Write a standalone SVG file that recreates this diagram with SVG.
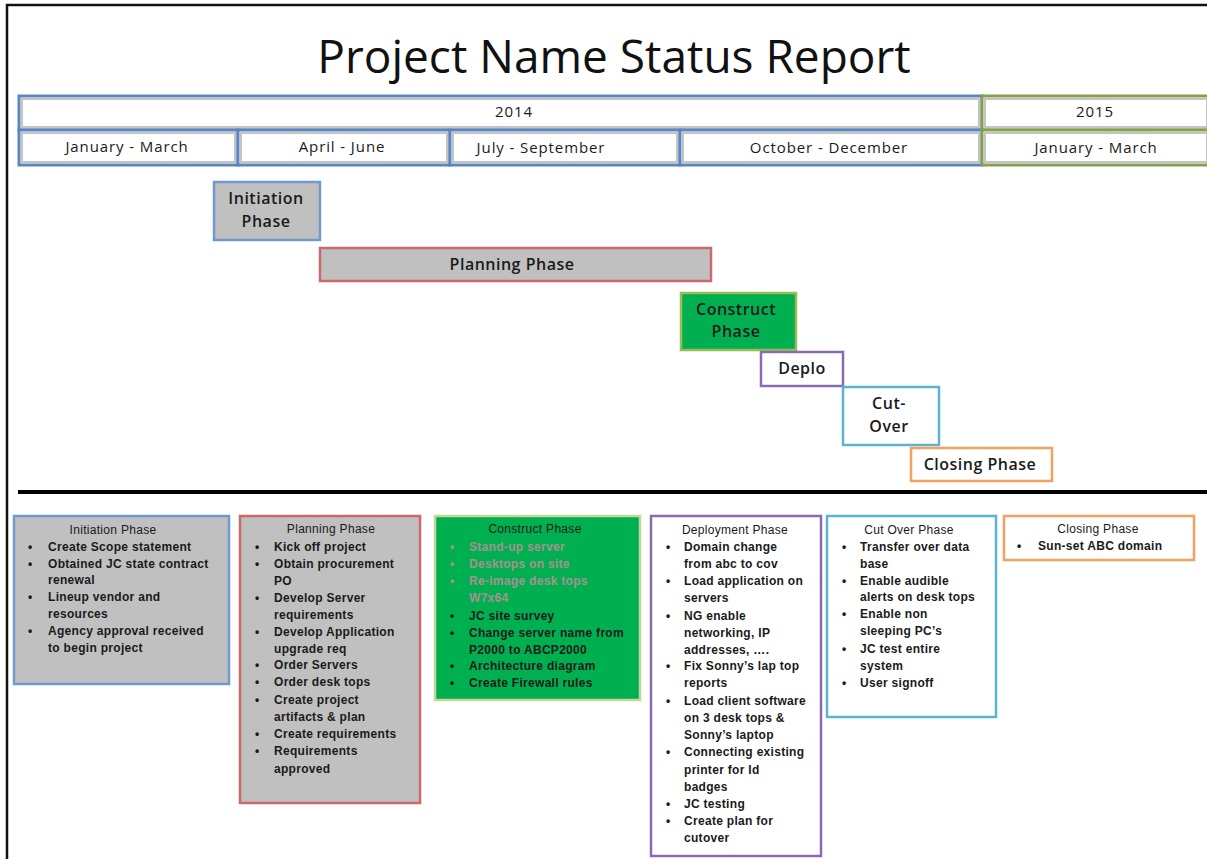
<svg xmlns="http://www.w3.org/2000/svg" width="1207" height="859" viewBox="0 0 1207 859">
<style>
.hdr{fill:#ffffff;stroke-width:3}
.blue{stroke:#5b86c0}
.green{stroke:#86a04e}
.inner{fill:none;stroke:#c4c4c4;stroke-width:2}
.ht{font-family:"Open Sans","Liberation Sans",sans-serif;font-size:15px;letter-spacing:0.9px;fill:#1a1a1a;text-anchor:middle}
.pt{font-family:"Open Sans","Liberation Sans",sans-serif;font-size:16px;letter-spacing:0.5px;font-weight:600;fill:#1a1a1a;text-anchor:middle}
.bt{font-family:"Liberation Sans",Arial,sans-serif;font-size:12px;letter-spacing:0.3px;font-weight:bold;fill:#1a1a1a}
.bc{font-family:"Liberation Sans",Arial,sans-serif;font-size:12px;letter-spacing:0.3px;fill:#1a1a1a;text-anchor:middle}
.faded{fill:#a89090}
.box{stroke-width:2.5}
</style>
<rect x="0" y="0" width="1207" height="859" fill="#ffffff"/>
<path d="M7 859 V5 H1207" fill="none" stroke="#111" stroke-width="2.5"/>
<text x="614" y="73" font-family="Open Sans, Liberation Sans, sans-serif" font-size="46" fill="#111" text-anchor="middle">Project Name Status Report</text>

<g id="header">
<rect class="hdr blue" x="19" y="96" width="963" height="34"/><rect class="inner" x="22" y="99" width="957" height="28"/>
<text class="ht" x="514" y="117">2014</text>
<rect class="hdr green" x="982" y="96" width="228" height="34"/><rect class="inner" x="985" y="99" width="222" height="28"/>
<text class="ht" x="1095" y="117">2015</text>
<rect class="hdr blue" x="19" y="130" width="219" height="35"/><rect class="inner" x="22" y="133" width="213" height="29"/>
<text class="ht" x="127" y="152">January - March</text>
<rect class="hdr blue" x="238" y="130" width="212" height="35"/><rect class="inner" x="241" y="133" width="206" height="29"/>
<text class="ht" x="342" y="152">April - June</text>
<rect class="hdr blue" x="450" y="130" width="230" height="35"/><rect class="inner" x="453" y="133" width="224" height="29"/>
<text class="ht" x="541" y="153">July - September</text>
<rect class="hdr blue" x="680" y="130" width="302" height="35"/><rect class="inner" x="683" y="133" width="296" height="29"/>
<text class="ht" x="829" y="153">October - December</text>
<rect class="hdr green" x="982" y="130" width="228" height="35"/><rect class="inner" x="985" y="133" width="222" height="29"/>
<text class="ht" x="1096" y="153">January - March</text>
</g>

<g id="gantt-initiation">
<rect class="box" x="214" y="182" width="106" height="58" fill="#c0c0c0" stroke="#7099cf"/>
<text class="pt" x="266" y="204">Initiation</text>
<text class="pt" x="266" y="227">Phase</text>
</g>
<g id="gantt-planning">
<rect class="box" x="320" y="248" width="391" height="33" fill="#c0c0c0" stroke="#cc6a6a"/>
<text class="pt" x="512" y="270">Planning Phase</text>
</g>
<g id="gantt-construct">
<rect class="box" x="681" y="293" width="115" height="57" fill="#00b050" stroke="#9bbb59"/>
<text class="pt" x="736" y="315">Construct</text>
<text class="pt" x="736" y="337">Phase</text>
</g>
<g id="gantt-deploy">
<rect class="box" x="761" y="352" width="82" height="34" fill="#ffffff" stroke="#8a6ab0"/>
<text class="pt" x="802" y="374">Deplo</text>
</g>
<g id="gantt-cutover">
<rect class="box" x="843" y="387" width="96" height="58" fill="#ffffff" stroke="#5ab4cf"/>
<text class="pt" x="889" y="409">Cut-</text>
<text class="pt" x="889" y="432">Over</text>
</g>
<g id="gantt-closing">
<rect class="box" x="911" y="448" width="141" height="33" fill="#ffffff" stroke="#f4a060"/>
<text class="pt" x="980" y="470">Closing Phase</text>
</g>

<g id="connectors">
<line x1="18" y1="492" x2="1207" y2="492" stroke="#000" stroke-width="4"/>
</g>

<g id="detail-initiation">
<rect class="box" x="14" y="516" width="215" height="168" fill="#c0c0c0" stroke="#7099cf"/>
<text class="bc" x="113" y="534">Initiation Phase</text>
<g class="bt">
<text x="28" y="551">•</text><text x="48" y="551">Create Scope statement</text>
<text x="28" y="568">•</text><text x="48" y="568">Obtained JC state contract</text>
<text x="48" y="584">renewal</text>
<text x="28" y="601">•</text><text x="48" y="601">Lineup vendor and</text>
<text x="48" y="618">resources</text>
<text x="28" y="635">•</text><text x="48" y="635">Agency approval received</text>
<text x="48" y="652">to begin project</text>
</g>
</g>

<g id="detail-planning">
<rect class="box" x="240" y="516" width="180" height="287" fill="#c0c0c0" stroke="#cc6a6a"/>
<text class="bc" x="331" y="533">Planning Phase</text>
<g class="bt">
<text x="255" y="551">•</text><text x="274" y="551">Kick off project</text>
<text x="255" y="568">•</text><text x="274" y="568">Obtain procurement</text>
<text x="274" y="585">PO</text>
<text x="255" y="602">•</text><text x="274" y="602">Develop Server</text>
<text x="274" y="619">requirements</text>
<text x="255" y="636">•</text><text x="274" y="636">Develop Application</text>
<text x="274" y="653">upgrade req</text>
<text x="255" y="669">•</text><text x="274" y="669">Order Servers</text>
<text x="255" y="686">•</text><text x="274" y="686">Order desk tops</text>
<text x="255" y="704">•</text><text x="274" y="704">Create project</text>
<text x="274" y="721">artifacts &amp; plan</text>
<text x="255" y="738">•</text><text x="274" y="738">Create requirements</text>
<text x="255" y="755">•</text><text x="274" y="755">Requirements</text>
<text x="274" y="773">approved</text>
</g>
</g>

<g id="detail-construct">
<rect class="box" x="435" y="516" width="205" height="184" fill="#00b050" stroke="#c4d79b"/>
<text class="bc" x="535" y="533">Construct Phase</text>
<g class="bt">
<text class="faded" x="450" y="551">•</text><text class="faded" x="469" y="551">Stand-up server</text>
<text class="faded" x="450" y="568">•</text><text class="faded" x="469" y="568">Desktops on site</text>
<text class="faded" x="450" y="585">•</text><text class="faded" x="469" y="585">Re-image desk tops</text>
<text class="faded" x="469" y="602">W7x64</text>
<text x="450" y="620">•</text><text x="469" y="620">JC site  survey</text>
<text x="450" y="637">•</text><text x="469" y="637">Change server name from</text>
<text x="469" y="654">P2000 to  ABCP2000</text>
<text x="450" y="670">•</text><text x="469" y="670">Architecture  diagram</text>
<text x="450" y="687">•</text><text x="469" y="687">Create Firewall  rules</text>
</g>
</g>

<g id="detail-deployment">
<rect class="box" x="651" y="516" width="170" height="340" fill="#ffffff" stroke="#8a6ab0"/>
<text class="bc" x="735" y="534">Deployment Phase</text>
<g class="bt">
<text x="666" y="551">•</text><text x="684" y="551">Domain change</text>
<text x="684" y="568">from abc to cov</text>
<text x="666" y="585">•</text><text x="684" y="585">Load application on</text>
<text x="684" y="602">servers</text>
<text x="666" y="620">•</text><text x="684" y="620">NG enable</text>
<text x="684" y="637">networking, IP</text>
<text x="684" y="654">addresses, ….</text>
<text x="666" y="670">•</text><text x="684" y="670">Fix Sonny’s lap top</text>
<text x="684" y="687">reports</text>
<text x="666" y="705">•</text><text x="684" y="705">Load client software</text>
<text x="684" y="722">on 3 desk tops &amp;</text>
<text x="684" y="739">Sonny’s laptop</text>
<text x="666" y="756">•</text><text x="684" y="756">Connecting existing</text>
<text x="684" y="774">printer for Id</text>
<text x="684" y="791">badges</text>
<text x="666" y="808">•</text><text x="684" y="808">JC testing</text>
<text x="666" y="825">•</text><text x="684" y="825">Create plan for</text>
<text x="684" y="842">cutover</text>
</g>
</g>

<g id="detail-cutover">
<rect class="box" x="827" y="516" width="169" height="201" fill="#ffffff" stroke="#5ab4cf"/>
<text class="bc" x="909" y="534">Cut Over Phase</text>
<g class="bt">
<text x="842" y="551">•</text><text x="860" y="551">Transfer over data</text>
<text x="860" y="568">base</text>
<text x="842" y="585">•</text><text x="860" y="585">Enable audible</text>
<text x="860" y="601">alerts on desk tops</text>
<text x="842" y="618">•</text><text x="860" y="618">Enable non</text>
<text x="860" y="635">sleeping  PC’s</text>
<text x="842" y="653">•</text><text x="860" y="653">JC test entire</text>
<text x="860" y="670">system</text>
<text x="842" y="687">•</text><text x="860" y="687">User signoff</text>
</g>
</g>

<g id="detail-closing">
<rect class="box" x="1004" y="516" width="190" height="44" fill="#ffffff" stroke="#f4a060"/>
<text class="bc" x="1098" y="533">Closing  Phase</text>
<g class="bt">
<text x="1017" y="550">•</text><text x="1038" y="550">Sun-set ABC domain</text>
</g>
</g>
</svg>
